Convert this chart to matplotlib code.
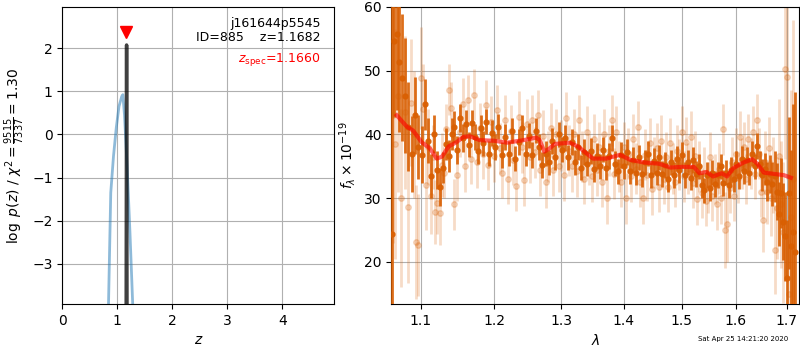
import matplotlib
matplotlib.use("Agg")
import matplotlib.pyplot as plt
from matplotlib.ticker import NullLocator, FixedLocator, FixedFormatter

# ---- redshift probability panel ----
z_prior = [0.83, 0.88, 0.93, 0.98, 1.03, 1.08, 1.10, 1.13, 1.18, 1.23, 1.28, 1.33]
logp_prior = [-4.5, -1.35, -0.5, 0.15, 0.65, 0.88, 0.92, 0.45, -0.8, -2.29, -3.95, -6.0]

z_fit = [1.14, 1.16, 1.1682, 1.176, 1.20]
logp_fit = [-40.0, -4.5, 2.07, -4.5, -40.0]

z_best = 1.1682
z_spec = 1.1660
chi2_num, chi2_den = 9515, 7337
obj_name = "j161644p5545"
obj_id = 885

# ---- spectrum panel: binned points (dark) ----
wave_bin = [1.063, 1.066, 1.069, 1.072, 1.076, 1.080, 1.084, 1.088, 1.092, 1.096,
            1.101, 1.105, 1.109, 1.113, 1.117, 1.121, 1.125, 1.129, 1.133, 1.137,
            1.141, 1.145, 1.149, 1.153, 1.157, 1.161, 1.165, 1.169, 1.173, 1.177,
            1.181, 1.185, 1.189, 1.193, 1.197, 1.201, 1.206, 1.211, 1.216, 1.221,
            1.226, 1.231, 1.236, 1.241, 1.246, 1.251, 1.256, 1.261, 1.266, 1.271,
            1.276, 1.281, 1.286, 1.291, 1.296, 1.301, 1.306, 1.311, 1.316, 1.321,
            1.326, 1.331, 1.336, 1.341, 1.346, 1.351, 1.356, 1.361, 1.366, 1.371,
            1.376, 1.381, 1.386, 1.391, 1.396, 1.401, 1.406, 1.411, 1.416, 1.421,
            1.426, 1.431, 1.436, 1.441, 1.446, 1.451, 1.456, 1.461, 1.466, 1.471,
            1.476, 1.481, 1.486, 1.491, 1.496, 1.501, 1.506, 1.511, 1.516, 1.521,
            1.526, 1.531, 1.536, 1.541, 1.546, 1.551, 1.556, 1.561, 1.566, 1.571,
            1.576, 1.581, 1.586, 1.591, 1.596, 1.601, 1.606, 1.611, 1.616, 1.621,
            1.626, 1.631, 1.636, 1.641, 1.646, 1.651, 1.656, 1.661, 1.666, 1.671,
            1.676, 1.681, 1.685, 1.689, 1.693, 1.697, 1.701, 1.705, 1.709, 1.713,
            1.717]
flux_bin = [24.3, 54.7, 55.8, 51.3, 48.9, 46.1, 41.2, 36.9, 43.0, 38.0,
            36.8, 44.7, 39.0, 33.5, 40.1, 34.4, 31.7, 34.8, 38.5, 36.6,
            40.0, 41.2, 37.6, 42.6, 39.4, 41.6, 38.4, 41.8, 39.6, 37.4,
            41.0, 38.6, 42.0, 37.0, 40.2, 38.0, 41.2, 36.8, 39.6, 37.0,
            40.6, 36.2, 38.8, 41.0, 37.0, 39.8, 36.8, 40.6, 38.0, 35.2,
            37.0, 35.6, 39.0, 36.4, 40.0, 37.6, 39.4, 36.4, 38.8, 35.6,
            38.0, 34.8, 37.2, 35.4, 37.4, 34.6, 36.6, 35.0, 37.6, 34.8,
            36.6, 39.4, 35.4, 34.2, 36.8, 35.0, 37.2, 34.2, 36.0, 34.0,
            36.4, 33.8, 35.6, 37.0, 33.6, 35.8, 34.0, 36.4, 33.8, 35.2,
            33.0, 35.6, 33.6, 36.2, 34.4, 36.8, 33.6, 35.6, 33.2, 36.0,
            33.8, 35.0, 32.0, 31.2, 33.6, 31.6, 34.0, 32.2, 33.6, 35.0,
            32.4, 34.0, 32.0, 34.4, 33.0, 35.4, 33.4, 36.2, 34.2, 36.0,
            34.0, 37.0, 35.0, 38.2, 35.4, 33.6, 34.6, 32.6, 33.8, 32.2,
            33.4, 31.0, 27.5, 30.8, 26.3, 24.0, 17.5, 30.8, 22.5, 24.7,
            21.6]
err_bin = [40, 12, 12, 11, 10, 9, 7, 6, 6, 5,
           4.5, 4, 3.5, 3.5, 3, 3, 3, 2.5, 2.5, 2.5,
           2.5, 2.5, 2.2, 2.2, 2.2, 2.2, 2, 2, 2, 2,
           2, 2, 2, 2, 2, 2, 2, 2, 2, 2,
           2, 2, 2, 2, 2, 2, 2, 2, 2, 2,
           2, 2, 2, 2, 2, 2, 2, 2, 2, 2,
           2, 2, 2, 2, 2, 2, 2, 2, 2, 2,
           2, 2, 2, 2, 2, 2, 2, 2, 2, 2,
           2, 2, 2, 2, 2, 2, 2, 2, 2, 2,
           2, 2, 2, 2, 2, 2, 2, 2, 2, 2,
           2, 2, 2, 2, 2, 2, 2, 2, 2, 2,
           2, 2, 2, 2, 2, 2, 2, 2, 2, 2,
           2, 2, 2, 2, 2, 2.5, 2.5, 3, 3, 3.5,
           4, 4.5, 5, 5.5, 6, 7, 9, 12, 15, 20,
           25]

# ---- spectrum panel: individual points (light) ----
wave_raw = [1.064, 1.067, 1.071, 1.075, 1.079, 1.083, 1.087, 1.091, 1.094, 1.097,
            1.100, 1.103, 1.107, 1.110, 1.113, 1.116, 1.119, 1.122, 1.125, 1.128,
            1.131, 1.134, 1.137, 1.140, 1.144, 1.148, 1.152, 1.156, 1.160, 1.164,
            1.168, 1.172, 1.176, 1.180, 1.184, 1.188, 1.192, 1.196, 1.200, 1.204,
            1.208, 1.212, 1.216, 1.220, 1.224, 1.228, 1.232, 1.236, 1.240, 1.244,
            1.248, 1.252, 1.256, 1.260, 1.264, 1.268, 1.272, 1.276, 1.280, 1.284,
            1.288, 1.292, 1.296, 1.300, 1.304, 1.308, 1.312, 1.316, 1.320, 1.324,
            1.328, 1.332, 1.336, 1.340, 1.344, 1.348, 1.352, 1.356, 1.360, 1.364,
            1.368, 1.372, 1.376, 1.380, 1.384, 1.388, 1.392, 1.396, 1.400, 1.404,
            1.408, 1.412, 1.416, 1.420, 1.424, 1.428, 1.432, 1.436, 1.440, 1.444,
            1.448, 1.452, 1.456, 1.460, 1.464, 1.468, 1.472, 1.476, 1.480, 1.484,
            1.488, 1.492, 1.496, 1.500, 1.504, 1.508, 1.512, 1.516, 1.520, 1.524,
            1.528, 1.532, 1.536, 1.540, 1.544, 1.548, 1.552, 1.556, 1.560, 1.564,
            1.568, 1.572, 1.576, 1.580, 1.584, 1.588, 1.592, 1.596, 1.600, 1.604,
            1.608, 1.612, 1.616, 1.620, 1.624, 1.628, 1.632, 1.636, 1.640, 1.644,
            1.648, 1.652, 1.656, 1.660, 1.664, 1.668, 1.672, 1.676, 1.680, 1.684,
            1.688, 1.692, 1.696, 1.700, 1.704, 1.708, 1.712]
flux_raw = [43.0, 38.5, 46.0, 30.0, 43.5, 28.6, 45.0, 40.0, 23.1, 22.6,
            48.8, 44.0, 32.0, 38.0, 30.4, 36.5, 27.8, 29.3, 27.6, 35.2,
            34.0, 40.8, 47.0, 44.2, 29.0, 33.6, 40.4, 44.8, 35.0, 45.4,
            36.2, 46.2, 35.6, 41.0, 37.0, 44.6, 35.2, 42.0, 36.6, 43.8,
            37.8, 34.0, 42.2, 33.0, 40.6, 36.0, 31.9, 42.8, 38.0, 32.8,
            41.6, 36.4, 42.2, 37.2, 43.0, 34.4, 39.8, 32.5, 36.6, 41.0,
            34.4, 40.0, 35.0, 38.2, 33.6, 42.6, 37.4, 35.0, 40.0, 34.2,
            42.2, 36.6, 33.0, 40.4, 36.0, 33.4, 39.2, 34.4, 38.0, 32.6,
            40.0, 30.0, 37.4, 42.2, 33.8, 40.4, 35.0, 32.6, 38.0, 30.0,
            37.0, 33.4, 39.2, 34.6, 41.2, 32.6, 30.0, 36.8, 33.6, 38.6,
            31.4, 35.6, 37.8, 31.8, 39.0, 33.0, 36.4, 31.8, 38.6, 34.6,
            32.6, 37.4, 35.2, 40.4, 33.4, 38.8, 34.6, 39.6, 32.4, 36.6,
            29.8, 35.0, 30.8, 34.0, 29.6, 31.6, 36.4, 30.4, 33.0, 29.0,
            34.6, 30.0, 40.8, 25.0, 25.9, 31.6, 35.6, 30.4, 37.0, 33.2,
            39.6, 35.4, 38.0, 33.0, 39.2, 35.4, 40.4, 33.8, 42.3, 37.0,
            31.0, 26.5, 35.6, 31.0, 37.8, 30.0, 33.6, 21.9, 28.5, 36.6,
            29.0, 24.6, 50.2, 49.0, 15.0, 27.0, 33.0]
err_raw = [20, 18, 15, 14, 12, 12, 10, 10, 9, 8,
           8, 7, 7, 6, 6, 5, 5, 5, 5, 5,
           4, 4, 4, 4, 4, 4, 4, 4, 4, 4,
           4, 4, 4, 4, 4, 4, 4, 4, 4, 4,
           4, 4, 4, 4, 4, 4, 4, 4, 4, 4,
           4, 4, 4, 4, 4, 4, 4, 4, 4, 4,
           4, 4, 4, 4, 4, 4, 4, 4, 4, 4,
           4, 4, 4, 4, 4, 4, 4, 4, 4, 4,
           4, 4, 4, 4, 4, 4, 4, 4, 4, 4,
           4, 4, 4, 4, 4, 4, 4, 4, 4, 4,
           4, 4, 4, 4, 4, 4, 4, 4, 4, 4,
           4, 4, 4, 4, 4, 4, 4, 4, 4, 4,
           4, 4, 4, 4, 4, 4, 4, 4, 4, 4,
           4, 4, 4, 6, 6, 4, 4, 4, 4, 4,
           4, 4, 4, 4, 4, 4, 4, 4, 4, 4,
           4, 5, 5, 5, 5, 6, 6, 7, 8, 9,
           10, 11, 14, 16, 18, 20, 25]

# ---- best-fit template ----
wave_model = [1.069, 1.082, 1.090, 1.101, 1.112, 1.121, 1.128, 1.137, 1.148, 1.157,
              1.166, 1.180, 1.200, 1.219, 1.243, 1.262, 1.267, 1.274, 1.282, 1.290,
              1.313, 1.326, 1.350, 1.372, 1.394, 1.411, 1.434, 1.460, 1.480, 1.500,
              1.522, 1.532, 1.545, 1.557, 1.573, 1.583, 1.595, 1.615, 1.631, 1.641,
              1.654, 1.674, 1.694, 1.708]
flux_model = [43.0, 41.2, 40.6, 38.8, 37.8, 36.2, 36.5, 38.1, 38.8, 39.6,
              39.7, 39.1, 39.0, 38.7, 39.1, 39.5, 39.1, 37.3, 37.8, 38.5,
              38.7, 38.1, 36.2, 36.2, 36.8, 36.0, 35.6, 35.4, 34.8, 34.9,
              34.9, 33.9, 34.1, 33.4, 33.9, 33.4, 34.7, 35.6, 36.1, 35.4,
              34.0, 33.8, 33.6, 33.2]

wave_ticks = [1.1, 1.2, 1.3, 1.4, 1.5, 1.6, 1.7]
stamp = "Sat Apr 25 14:21:20 2020"

orange = "#d95f02"
fig = plt.figure(figsize=(8, 3.5), dpi=100)

# left: log p(z)
ax1 = fig.add_axes([0.078, 0.131, 0.340, 0.849])
ax1.plot(z_prior, logp_prior, color="#1f77b4", alpha=0.5, lw=2)
ax1.plot(z_fit, logp_fit, color="black", alpha=0.75, lw=2.5)
ax1.plot([z_spec], [2.38], marker="v", color="red", ms=8, ls="none")
ax1.set_xlim(0, 4.95)
ax1.set_ylim(-3.93, 2.95)
ax1.set_xticks([0, 1, 2, 3, 4])
ax1.set_yticks([-3, -2, -1, 0, 1, 2])
ax1.grid(True, color="#b0b0b0", lw=0.8)
ax1.set_axisbelow(True)
ax1.set_xlabel(r"$z$")
ax1.set_ylabel(r"$\log\ p(z)$ / $\chi^2=\frac{%d}{%d}=%.2f$"
               % (chi2_num, chi2_den, chi2_num / chi2_den))
ax1.text(0.95, 0.968, "%s\nID=%d    z=%.4f" % (obj_name, obj_id, z_best),
         transform=ax1.transAxes, ha="right", va="top", fontsize=9,
         linespacing=1.15)
ax1.text(0.95, 0.825, r"$z_\mathrm{spec}$=%.4f" % z_spec, color="red",
         transform=ax1.transAxes, ha="right", va="center", fontsize=9)

# right: spectrum
ax2 = fig.add_axes([0.489, 0.131, 0.510, 0.849])
ax2.errorbar(wave_raw, flux_raw, yerr=err_raw, fmt="o", color=orange,
             ms=4, elinewidth=2, alpha=0.22, zorder=2)
ax2.errorbar(wave_bin, flux_bin, yerr=err_bin, fmt="o", color=orange,
             ms=3.5, elinewidth=2, alpha=0.9, zorder=3)
ax2.plot(wave_model, flux_model, color="red", alpha=0.6, lw=3, zorder=4)
ax2.set_xscale("log")
ax2.xaxis.set_major_locator(FixedLocator(wave_ticks))
ax2.xaxis.set_major_formatter(FixedFormatter(["%.1f" % w for w in wave_ticks]))
ax2.xaxis.set_minor_locator(NullLocator())
ax2.set_xlim(1.062, 1.725)
ax2.set_ylim(13.35, 60)
ax2.set_yticks([20, 30, 40, 50, 60])
ax2.grid(True, color="#b0b0b0", lw=0.8)
ax2.set_axisbelow(True)
ax2.set_xlabel(r"$\lambda$")
ax2.set_ylabel(r"$f_\lambda\times10^{-19}$")

fig.text(0.929, 0.031, stamp, fontsize=5, ha="center", va="center")

fig.savefig("out.png", dpi=100)
